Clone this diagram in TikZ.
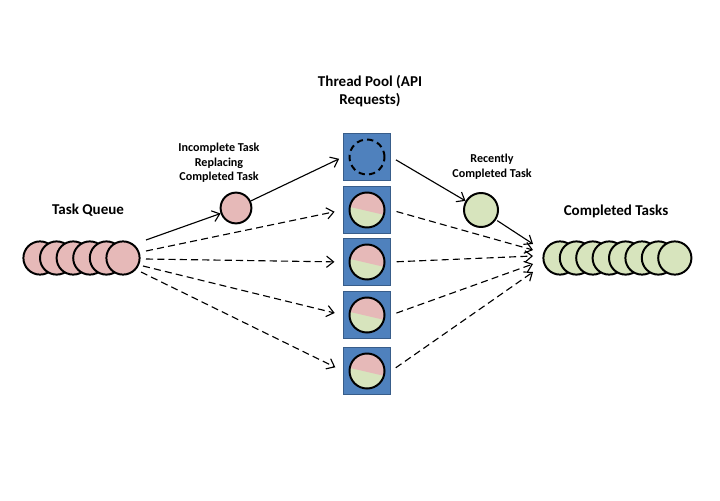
\documentclass[tikz,border=0pt]{standalone}
\usepackage{fontspec}
\setmainfont{Carlito}
\usetikzlibrary{arrows.meta}
\definecolor{pendp}{HTML}{E6B9B8}
\definecolor{doneg}{HTML}{D7E4BD}
\definecolor{poolb}{HTML}{4F81BD}
\definecolor{poolrim}{HTML}{385D8A}
\tikzset{
  task/.style={circle,draw,line width=1.4pt,inner sep=0pt,minimum size=0.83cm},
  pending/.style={task,fill=pendp},
  finished/.style={task,fill=doneg},
  worker/.style={draw=poolrim,line width=1pt,fill=poolb,minimum size=1.17cm,inner sep=0pt},
  halfdone/.style={task,minimum size=0.875cm,fill=doneg,
    path picture={\fill[pendp] (path picture bounding box.north west) -- (path picture bounding box.north east)
      -- ([yshift=-0.56cm]path picture bounding box.north east)
      .. controls +(-0.3,0.02) and +(0.3,-0.08) .. ([yshift=-0.36cm]path picture bounding box.north west) -- cycle;}},
  bigtitle/.style={font=\fontsize{10.7}{12.8}\selectfont\bfseries,align=center},
  smalltitle/.style={font=\fontsize{8.6}{10.4}\selectfont\bfseries,align=center},
  flow/.style={line width=0.8pt,-{Straight Barb[length=5pt,width=8pt]}},
  spare/.style={flow,dashed,dash pattern=on 5pt off 3pt}
}
\begin{document}
\begin{tikzpicture}[x=0.025cm,y=-0.025cm]
\useasboundingbox (0,0) rectangle (720,500);

\foreach \i in {1,...,6}
  \node[pending] (q\i) at ({40+16.6*(\i-1)},258) {};
\node[bigtitle] (qlabel) at (88,210) {Task Queue};

\foreach \i in {1,...,8}
  \node[finished] (c\i) at ({560+16.4*(\i-1)},258) {};
\node[bigtitle] (clabel) at (616,211) {Completed Tasks};

\node[bigtitle] (plabel) at (370,91) {Thread Pool (API\\Requests)};
\node[worker] (w1) at (367,157) {};
\node[worker] (w2) at (367,210) {};
\node[worker] (w3) at (367,262) {};
\node[worker] (w4) at (367,315) {};
\node[worker] (w5) at (367,371) {};
\draw[line width=1.4pt,dash pattern=on 4.5pt off 3pt] (w1) circle (0.4375cm);
\foreach \i in {2,...,5}
  \node[halfdone] (t\i) at (w\i) {};

\node[pending,minimum size=0.77cm] (inc) at (236,208) {};
\node[smalltitle] (inclabel) at (219,163) {Incomplete Task\\Replacing\\Completed Task};
\node[finished,minimum size=0.85cm] (rec) at (481,210) {};
\node[smalltitle] (reclabel) at (492,167) {Recently\\Completed Task};

\coordinate (out0) at (146,240);
\coordinate (out1) at (146,251);
\coordinate (out2) at (146,259);
\coordinate (out3) at (143,266);
\coordinate (out4) at (141,272);
\coordinate (in0) at (533,244);
\coordinate (in1) at (533,250);
\coordinate (in2) at (533,256);
\coordinate (in3) at (533,264);
\coordinate (in4) at (533,272);

\draw[flow] (out0) -- (inc);
\draw[flow,shorten >=3pt] (inc) -- (w1.west);
\draw[flow,shorten <=4pt] (w1.east) -- (rec);
\draw[flow,shorten <=1pt] (rec) -- (in0);

\draw[spare,shorten >=6pt] (out1) -- (w2.west);
\draw[spare,shorten >=6pt] (out2) -- (w3.west);
\draw[spare,shorten >=6pt] (out3) -- (w4.west);
\draw[spare,shorten >=6pt] (out4) -- (w5.west);

\draw[spare,shorten <=4pt] (w2.east) -- (in1);
\draw[spare,shorten <=4pt] (w3.east) -- (in2);
\draw[spare,shorten <=4pt] (w4.east) -- (in3);
\draw[spare,shorten <=4pt] (w5.east) -- (in4);
\end{tikzpicture}
\end{document}
